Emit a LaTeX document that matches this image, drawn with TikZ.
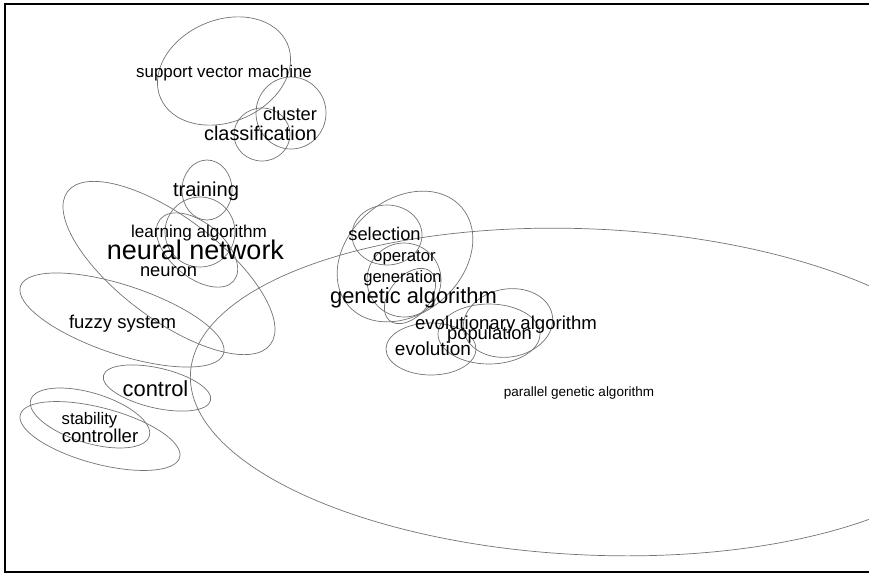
\documentclass[tikz,border=0pt]{standalone}
\usepackage{fontspec}
\setmainfont{Liberation Sans}
\begin{document}
\begin{tikzpicture}[x=1pt,y=1pt,
  ell/.style={draw=black!55, line width=0.7pt},
  lbl/.style={inner sep=0pt, anchor=base, text=black},
  frame/.style={draw=black, line width=2pt}]
\useasboundingbox (0,0) rectangle (869,-573);
\clip (0,0) rectangle (869,-573);
% frame
\draw[frame] (872,-3.8) -- (5,-3.8) -- (5,-571.5) -- (872,-571.5);
% ellipses
\draw[ell, rotate around={23:(224,-71)}] (224,-71) ellipse [x radius=69, y radius=51];
\draw[ell] (291,-113) ellipse [x radius=35, y radius=36];
\draw[ell] (262,-134.5) ellipse [x radius=28, y radius=26.5];
\draw[ell] (207,-190) ellipse [x radius=25, y radius=30];
\draw[ell] (200,-232) ellipse [x radius=35, y radius=35];
\draw[ell, rotate around={-40:(197,-250)}] (197,-250) ellipse [x radius=48, y radius=27];
\draw[ell, rotate around={-37:(169,-268)}] (169,-268) ellipse [x radius=127, y radius=51];
\draw[ell, rotate around={-18.4:(122,-320)}] (122,-320) ellipse [x radius=107, y radius=34.5];
\draw[ell, rotate around={-13:(157,-388)}] (157,-388) ellipse [x radius=55, y radius=20];
\draw[ell, rotate around={-17:(90,-418)}] (90,-418) ellipse [x radius=62, y radius=25];
\draw[ell, rotate around={-15:(100,-436)}] (100,-436) ellipse [x radius=82.5, y radius=28];
\draw[ell, rotate around={-2.6:(590,-392)}] (590,-392) ellipse [x radius=400, y radius=163];
\draw[ell, rotate around={41:(405,-256.5)}] (405,-256.5) ellipse [x radius=75, y radius=57];
\draw[ell] (387,-235) ellipse [x radius=35, y radius=30];
\draw[ell] (404,-280) ellipse [x radius=37, y radius=37];
\draw[ell, rotate around={50:(410,-296)}] (410,-296) ellipse [x radius=32, y radius=20];
\draw[ell, rotate around={10:(508,-323)}] (508,-323) ellipse [x radius=45, y radius=34];
\draw[ell] (489,-334) ellipse [x radius=51, y radius=30];
\draw[ell] (431,-349) ellipse [x radius=45, y radius=26];
% labels
\node[lbl, font=\fontsize{16.9}{16.9}\selectfont] (svm) at (224,-77.3) {support vector machine};
\node[lbl, font=\fontsize{18.3}{18.3}\selectfont] (cluster) at (290,-120.7) {cluster};
\node[lbl, font=\fontsize{19.9}{19.9}\selectfont] (class) at (260.5,-140.7) {classification};
\node[lbl, font=\fontsize{20.1}{20.1}\selectfont] (train) at (206,-196.7) {training};
\node[lbl, font=\fontsize{17.1}{17.1}\selectfont] (learn) at (199,-237.3) {learning algorithm};
\node[lbl, font=\fontsize{27}{27}\selectfont] (nn) at (195.5,-259) {neural network};
\node[lbl, font=\fontsize{18.3}{18.3}\selectfont] (neuron) at (168.5,-276) {neuron};
\node[lbl, font=\fontsize{18.5}{18.5}\selectfont] (fuzzy) at (122.5,-328.3) {fuzzy system};
\node[lbl, font=\fontsize{21.9}{21.9}\selectfont] (control) at (155.5,-396) {control};
\node[lbl, font=\fontsize{16.7}{16.7}\selectfont] (stab) at (89.5,-424) {stability};
\node[lbl, font=\fontsize{18.6}{18.6}\selectfont] (ctrlr) at (100,-442.7) {controller};
\node[lbl, font=\fontsize{18.3}{18.3}\selectfont] (sel) at (384.5,-240.7) {selection};
\node[lbl, font=\fontsize{16.8}{16.8}\selectfont] (oper) at (404.5,-261.7) {operator};
\node[lbl, font=\fontsize{16.6}{16.6}\selectfont] (gen) at (402.5,-282.7) {generation};
\node[lbl, font=\fontsize{21.9}{21.9}\selectfont] (ga) at (413.5,-303.3) {genetic algorithm};
\node[lbl, font=\fontsize{18.6}{18.6}\selectfont] (evalg) at (506,-329) {evolutionary algorithm};
\node[lbl, font=\fontsize{18.4}{18.4}\selectfont] (pop) at (489.5,-339.3) {population};
\node[lbl, font=\fontsize{19}{19}\selectfont] (evo) at (433,-355) {evolution};
\node[lbl, font=\fontsize{13.5}{13.5}\selectfont] (pga) at (579,-396.7) {parallel genetic algorithm};
\end{tikzpicture}
\end{document}
